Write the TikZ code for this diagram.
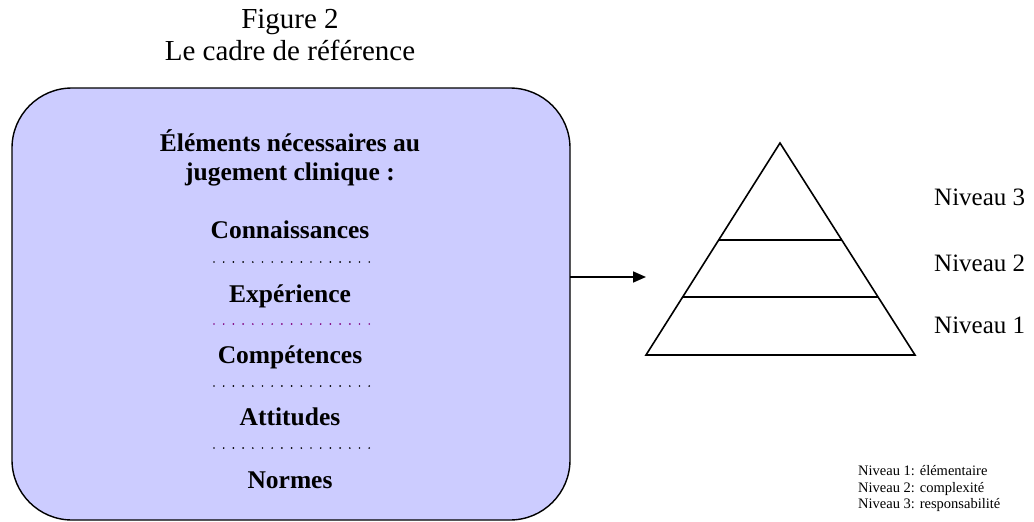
\documentclass[tikz,border=0pt]{standalone}
\usepackage{fontspec}
\setmainfont{Liberation Serif}
\usetikzlibrary{arrows.meta,calc}
\definecolor{boxfill}{HTML}{CCCCFF}
\definecolor{dotpurple}{HTML}{800080}
\tikzset{
  label/.style={inner sep=0pt, anchor=base, font=\fontsize{29}{29}\selectfont},
  itemtxt/.style={inner sep=0pt, anchor=base, font=\fontsize{25.5}{25.5}\selectfont\bfseries},
  sep/.style={line width=1.9pt, line cap=round, dash pattern=on 0pt off 9.7pt},
  legend/.style={inner sep=0pt, anchor=base west, font=\fontsize{14.5}{14.5}\selectfont},
  lvl/.style={inner sep=0pt, anchor=base west, font=\fontsize{25}{25}\selectfont},
  outline/.style={line width=1.6pt},
}
\begin{document}
\begin{tikzpicture}[x=1pt,y=-1pt]
\useasboundingbox (0,0) rectangle (1034,522);

% title
\node[label] (t1) at (290,28) {Figure 2};
\node[label] (t2) at (290,60) {Le cadre de référence};

% left panel
\draw[fill=boxfill, line width=1.4pt, rounded corners=60pt] (12,88) rectangle (570,520);
\coordinate (boxR) at (570,277);

\node[itemtxt] (h1) at (290,151) {Éléments nécessaires au};
\node[itemtxt] (h2) at (290,180) {jugement clinique :};
\node[itemtxt] (c1) at (290,238) {Connaissances};
\node[itemtxt] (c2) at (290,302) {Expérience};
\node[itemtxt] (c3) at (290,363) {Compétences};
\node[itemtxt] (c4) at (290,425) {Attitudes};
\node[itemtxt] (c5) at (290,488) {Normes};

\draw[sep] (214,262) -- (370,262);
\draw[sep, dotpurple] (214,324) -- (370,324);
\draw[sep] (214,386) -- (370,386);
\draw[sep] (214,448) -- (370,448);

% arrow
\coordinate (arrEnd) at (646,277);
\draw[outline, -{Triangle[length=13pt,width=11pt]}] (boxR) -- (arrEnd);

% pyramid
\coordinate (apex) at (780,143);
\coordinate (bl) at (646,355);
\coordinate (br) at (915,355);
\draw[outline, line join=miter] (apex) -- (bl) -- (br) -- cycle;
\draw[outline] ($(apex)!0.458!(bl)$) -- ($(apex)!0.458!(br)$);
\draw[outline] ($(apex)!0.726!(bl)$) -- ($(apex)!0.726!(br)$);

\node[lvl] (n3) at (934,205) {Niveau 3};
\node[lvl] (n2) at (934,271) {Niveau 2};
\node[lvl] (n1) at (934,333) {Niveau 1};

\node[legend] (l1) at (858,475) {Niveau 1: élémentaire};
\node[legend] (l2) at (858,492) {Niveau 2: complexité};
\node[legend] (l3) at (858,508) {Niveau 3: responsabilité};
\end{tikzpicture}
\end{document}
